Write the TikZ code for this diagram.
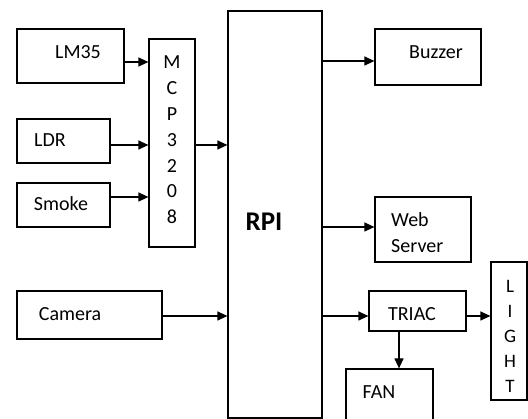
\documentclass[tikz,border=0pt]{standalone}
\usepackage{fontspec}
\setmainfont{Carlito}
\usetikzlibrary{arrows.meta}
\tikzset{
  box/.style={draw=black, line width=1.2pt, inner sep=0pt, fill=none},
  lbl/.style={inner sep=0pt, font=\fontsize{20}{24}\selectfont, text=black},
  arr/.style={line width=1.2pt, -{Triangle[length=10pt,width=9pt]}},
}
\begin{document}
\begin{tikzpicture}[x=1pt, y=-1pt]
\useasboundingbox (0,0) rectangle (528,419);

% input blocks
\node[box, minimum width=107pt, minimum height=54pt] (lm35) at (70.5,56) {};
\node[lbl] (lm35t) at (78,52) {LM35};
\node[box, minimum width=93pt, minimum height=44pt] (ldr) at (63.5,141) {};
\node[lbl] (ldrt) at (50,140) {LDR};
\node[box, minimum width=93pt, minimum height=44pt] (smoke) at (63.5,205) {};
\node[lbl] (smoket) at (61,204) {Smoke};
\node[box, minimum width=145pt, minimum height=48pt] (camera) at (89.5,315) {};
\node[lbl] (camerat) at (70,314) {Camera};

% ADC
\node[box, minimum width=46pt, minimum height=208pt] (mcp) at (172,143) {};
\node[lbl, align=center, font=\fontsize{20}{25.8}\selectfont] (mcpt) at (172,140) {M\\C\\P\\3\\2\\0\\8};

% controller
\node[box, minimum width=94pt, minimum height=407pt] (rpi) at (275,214.5) {};
\node[lbl, font=\fontsize{27}{30}\bfseries] (rpit) at (264,222) {RPI};

% output blocks
\node[box, minimum width=106pt, minimum height=56pt] (buzzer) at (428,57) {};
\node[lbl] (buzzert) at (436,52) {Buzzer};
\node[box, minimum width=96pt, minimum height=65pt] (web) at (423,229.5) {};
\node[lbl, anchor=west, align=left, font=\fontsize{20}{26}\selectfont] (webt) at (391,233) {Web\\Server};
\node[box, minimum width=97pt, minimum height=40pt] (triac) at (417.5,311) {};
\node[lbl] (triact) at (412,314) {TRIAC};
\node[box, minimum width=36pt, minimum height=138pt] (light) at (509,331) {};
\node[lbl, align=center, font=\fontsize{19}{25}\selectfont] (lightt) at (510,336) {L\\I\\G\\H\\T};
\node[box, minimum width=87pt, minimum height=53pt] (fan) at (389.5,395.5) {};
\node[lbl] (fant) at (379,392) {FAN};

% connections
\draw[arr] (lm35.east |- 0,62) -- (mcp.west |- 0,62);
\draw[arr] (ldr.east |- 0,145) -- (mcp.west |- 0,145);
\draw[arr] (smoke.east |- 0,197) -- (mcp.west |- 0,197);
\draw[arr] (mcp.east |- 0,145) -- (rpi.west |- 0,145);
\draw[arr] (camera.east |- 0,316) -- (rpi.west |- 0,316);
\draw[arr] (rpi.east |- 0,61) -- (buzzer.west |- 0,61);
\draw[arr] (rpi.east |- 0,227) -- (web.west |- 0,227);
\draw[arr] (rpi.east |- 0,316) -- (triac.west |- 0,316);
\draw[arr] (triac.east |- 0,316) -- (light.west |- 0,316);
\draw[arr] (triac.south -| 399,0) -- (fan.north -| 399,0);
\end{tikzpicture}
\end{document}
